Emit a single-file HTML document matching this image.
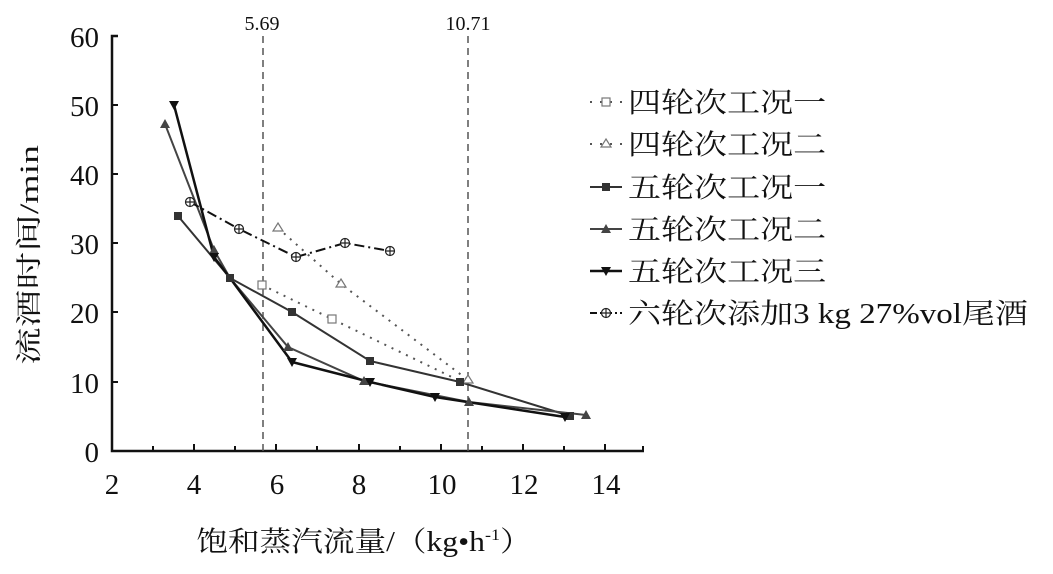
<!DOCTYPE html>
<html><head><meta charset="utf-8"><style>
html,body{margin:0;padding:0;background:#fff;}
svg text{font-family:"Liberation Serif","Noto Serif CJK SC",serif;fill:#111;}
</style></head><body>
<svg width="1053" height="569" viewBox="0 0 1053 569" xmlns="http://www.w3.org/2000/svg">
<rect width="1053" height="569" fill="#fff"/>
<!-- axes -->
<path d="M118,36 L112,36 L112,451 L644,451" fill="none" stroke="#111" stroke-width="2.5"/>
<g stroke="#111" stroke-width="2">
<line x1="112" y1="105" x2="118" y2="105"/><line x1="112" y1="174" x2="118" y2="174"/><line x1="112" y1="243" x2="118" y2="243"/><line x1="112" y1="312" x2="118" y2="312"/><line x1="112" y1="382" x2="118" y2="382"/>
<line x1="194" y1="451" x2="194" y2="444"/><line x1="276" y1="451" x2="276" y2="444"/><line x1="359" y1="451" x2="359" y2="444"/><line x1="441" y1="451" x2="441" y2="444"/><line x1="523" y1="451" x2="523" y2="444"/><line x1="605" y1="451" x2="605" y2="444"/>
<line x1="153" y1="451" x2="153" y2="446"/><line x1="235" y1="451" x2="235" y2="446"/><line x1="317" y1="451" x2="317" y2="446"/><line x1="400" y1="451" x2="400" y2="446"/><line x1="482" y1="451" x2="482" y2="446"/><line x1="564" y1="451" x2="564" y2="446"/><line x1="643" y1="451" x2="643" y2="446"/>
</g>
<g font-size="29" text-anchor="end">
<text x="99" y="47">60</text><text x="99" y="116">50</text><text x="99" y="185">40</text><text x="99" y="254">30</text><text x="99" y="323">20</text><text x="99" y="393">10</text><text x="99" y="462">0</text>
</g>
<g font-size="29" text-anchor="middle">
<text x="112" y="494">2</text><text x="194" y="494">4</text><text x="277" y="494">6</text><text x="359" y="494">8</text><text x="442" y="494">10</text><text x="524" y="494">12</text><text x="606" y="494">14</text>
</g>
<g transform="translate(364,0) scale(1.13,1)">
<text x="0" y="551" font-size="28" text-anchor="middle">饱和蒸汽流量/（kg•h<tspan font-size="16" dy="-11">-1</tspan><tspan dy="11">）</tspan></text>
</g>
<text transform="translate(38,255) rotate(-90) scale(1.45,1)" font-size="26" text-anchor="middle">流酒时间/min</text>
<!-- vertical dashed -->
<g stroke="#555" stroke-width="1.5" stroke-dasharray="7,5">
<line x1="263" y1="36" x2="263" y2="451"/><line x1="468" y1="36" x2="468" y2="451"/>
</g>
<text x="262" y="30" font-size="20" text-anchor="middle">5.69</text>
<text x="468" y="30" font-size="20" text-anchor="middle">10.71</text>
<!-- series -->
<polyline points="262,285 332,319 460,381" fill="none" stroke="#555" stroke-width="2" stroke-dasharray="2,6"/>
<polyline points="278,228 341,284 468,380" fill="none" stroke="#555" stroke-width="2" stroke-dasharray="2,6"/>
<polyline points="178,216 230,278 292,312 370,361 460,382 570,416" fill="none" stroke="#333" stroke-width="2"/>
<polyline points="165,124 214,250 230,278 288,347 364,381 469,402 586,415" fill="none" stroke="#444" stroke-width="2"/>
<polyline points="174,105 214,257 230,278 292,362 370,382 435,397 565,417" fill="none" stroke="#111" stroke-width="2.5"/>
<polyline points="190,202 239,229 296,257 345,243 390,251" fill="none" stroke="#111" stroke-width="2" stroke-dasharray="10,4,2,4"/>
<!-- markers -->
<g fill="#fff" stroke="#777" stroke-width="1.2">
<rect x="258" y="281" width="8" height="8"/><rect x="328" y="315" width="8" height="8"/>
<path d="M278,223 l5,8 h-10z"/><path d="M341,279 l5,8 h-10z"/><path d="M468,375 l5,8 h-10z"/>
</g>
<g fill="#333">
<rect x="174" y="212" width="8" height="8"/><rect x="226" y="274" width="8" height="8"/><rect x="288" y="308" width="8" height="8"/><rect x="366" y="357" width="8" height="8"/><rect x="456" y="378" width="8" height="8"/><rect x="566" y="412" width="8" height="8"/>
</g>
<g fill="#444">
<path d="M165,119 l5,9 h-10z"/><path d="M214,245 l5,9 h-10z"/><path d="M288,342 l5,9 h-10z"/><path d="M364,376 l5,9 h-10z"/><path d="M469,397 l5,9 h-10z"/><path d="M586,410 l5,9 h-10z"/>
</g>
<g fill="#111">
<path d="M169,101 h10 l-5,9z"/><path d="M209,253 h10 l-5,9z"/><path d="M287,358 h10 l-5,9z"/><path d="M365,378 h10 l-5,9z"/><path d="M430,393 h10 l-5,9z"/><path d="M560,413 h10 l-5,9z"/>
</g>
<g fill="#fff" stroke="#222" stroke-width="1.2">
<circle cx="190" cy="202" r="4.5"/><circle cx="239" cy="229" r="4.5"/><circle cx="296" cy="257" r="4.5"/><circle cx="345" cy="243" r="4.5"/><circle cx="390" cy="251" r="4.5"/>
<path d="M190,197.5v9M239,224.5v9M296,252.5v9M345,238.5v9M390,246.5v9M185.5,202h9M234.5,229h9M291.5,257h9M340.5,243h9M385.5,251h9"/>
</g>
<!-- legend -->
<g font-size="28" transform="translate(628,0) scale(1.18,1)">
<text x="0" y="112">四轮次工况一</text>
<text x="0" y="154">四轮次工况二</text>
<text x="0" y="197">五轮次工况一</text>
<text x="0" y="239">五轮次工况二</text>
<text x="0" y="281">五轮次工况三</text>
<text x="0" y="323">六轮次添加3 kg 27%vol尾酒</text>
</g>
<g stroke-width="2">
<line x1="590" y1="102" x2="622" y2="102" stroke="#555" stroke-dasharray="2,8"/>
<line x1="590" y1="144" x2="622" y2="144" stroke="#555" stroke-dasharray="2,8"/>
<line x1="590" y1="187" x2="622" y2="187" stroke="#333"/>
<line x1="590" y1="229" x2="622" y2="229" stroke="#444"/>
<line x1="590" y1="271" x2="622" y2="271" stroke="#111" stroke-width="2.5"/>
<line x1="590" y1="313" x2="622" y2="313" stroke="#111" stroke-dasharray="7,3,2,3"/>
</g>
<rect x="602" y="98" width="8" height="8" fill="#fff" stroke="#777" stroke-width="1.2"/>
<path d="M606,139 l5,8 h-10z" fill="#fff" stroke="#777" stroke-width="1.2"/>
<rect x="602" y="183" width="8" height="8" fill="#333"/>
<path d="M606,224 l5,9 h-10z" fill="#444"/>
<path d="M601,267 h10 l-5,9z" fill="#111"/>
<circle cx="606" cy="313" r="4.5" fill="#fff" stroke="#222" stroke-width="1.2"/>
<path d="M606,308.5v9M601.5,313h9" stroke="#222" stroke-width="1.2"/>
</svg>
</body></html>
